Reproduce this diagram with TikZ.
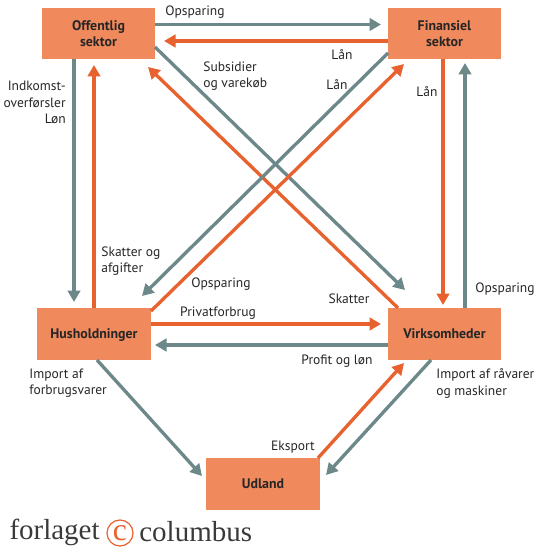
\documentclass[tikz,border=0pt]{standalone}
\usepackage{fontspec}
\setmainfont{PT Sans}
\newfontfamily\logofont{Liberation Serif}
\usetikzlibrary{arrows.meta,calc}
\definecolor{boxfill}{HTML}{F0895C}
\definecolor{flowred}{HTML}{E8622F}
\definecolor{flowgrey}{HTML}{6C8889}
\definecolor{logotext}{HTML}{3A3A3A}
\tikzset{
  sector/.style={fill=boxfill, minimum width=2.28cm, minimum height=1.04cm, inner sep=0pt,
    align=center, text=black!85, font=\fontsize{7.9}{9.4}\selectfont\bfseries},
  lbl/.style={inner sep=0pt, yshift=-0.03cm, text=black!85, font=\fontsize{7.7}{9.2}\selectfont},
  redflow/.style={->, flowred, line width=1.9pt},
  greyflow/.style={->, flowgrey, line width=1.9pt},
}
\begin{document}
\begin{tikzpicture}[x=0.02cm, y=-0.02cm, >={Triangle[length=0.23cm, width=0.25cm]}]
  \useasboundingbox (0,0) rectangle (550,550);

  % --- Sectors ---
  \node[sector] (off) at (98.5,33.5) {Offentlig\\sektor};
  \node[sector] (fin) at (444.5,33.5) {Finansiel\\sektor};
  \node[sector, text depth=0pt] (hus) at (94,334) {Husholdninger};
  \node[sector] (virk) at (444.5,334) {Virksomheder};
  \node[sector] (udl) at (263,484) {Udland};

  % --- Top pair ---
  \draw[greyflow] ($(off)+(56.5,-9)$) -- ($(fin)+(-63.5,-9)$);
  \draw[redflow] ($(fin)+(-56.5,7.5)$) -- ($(off)+(65.5,7.5)$);

  % --- Left pair ---
  \draw[greyflow] ($(off)+(-24.5,25.5)$) -- ($(hus)+(-20,-32)$);
  \draw[redflow] ($(hus)+(0,-26)$) -- ($(off)+(-4.5,31.5)$);

  % --- Right pair ---
  \draw[redflow] ($(fin)+(-1.5,25.5)$) -- ($(virk)+(-1.5,-29)$);
  \draw[greyflow] ($(virk)+(20.5,-26)$) -- ($(fin)+(20.5,29.5)$);

  % --- Diagonals ---
  \draw[greyflow] ($(off)+(56.5,13.5)$) -- ($(virk)+(-39.5,-44)$);
  \draw[redflow] ($(virk)+(-46.5,-26)$) -- ($(off)+(49.5,33.5)$);
  \draw[greyflow] ($(fin)+(-56.5,19.5)$) -- ($(hus)+(48,-38)$);
  \draw[redflow] ($(hus)+(57,-23)$) -- ($(fin)+(-40.5,30.5)$);

  % --- Middle pair ---
  \draw[redflow] ($(hus)+(57,-10)$) -- ($(virk)+(-63.5,-10)$);
  \draw[greyflow] ($(virk)+(-56.5,11)$) -- ($(hus)+(61,11)$);

  % --- Foreign trade ---
  \draw[greyflow] ($(hus)+(3,26)$) -- ($(udl)+(-61,-8)$);
  \draw[greyflow] ($(virk)+(-13.5,26)$) -- ($(udl)+(63,-9)$);
  \draw[redflow] ($(udl)+(55,-26)$) -- ($(virk)+(-40.5,29)$);

  % --- Labels ---
  \node[lbl] (opsTop) at (195,11) {Opsparing};
  \node[lbl] (laanTop) at (342,53) {Lån};
  \node[lbl] (laanDiag) at (337,83) {Lån};
  \node[lbl] (laanRight) at (427,90) {Lån};
  \node[lbl, anchor=west, align=left] (subsidier) at (203,75) {Subsidier\\og varekøb};
  \node[lbl, anchor=east, align=right] (indkomst) at (66,101) {Indkomst-\\overførsler\\Løn};
  \node[lbl, anchor=west, align=left] (skatterAf) at (101,259.5) {Skatter og\\afgifter};
  \node[lbl] (opsDiag) at (221,283) {Opsparing};
  \node[lbl] (privat) at (218,312) {Privatforbrug};
  \node[lbl] (skatter) at (349,297) {Skatter};
  \node[lbl] (opsRight) at (505,288) {Opsparing};
  \node[lbl] (profit) at (337,360) {Profit og løn};
  \node[lbl, anchor=west, align=left] (importHus) at (29,382) {Import af\\forbrugsvarer};
  \node[lbl, anchor=west, align=left] (importVirk) at (436,382) {Import af råvarer\\og maskiner};
  \node[lbl] (eksport) at (293,446) {Eksport};

  % --- Logo ---
  \node[inner sep=0pt, text=logotext, font=\logofont\fontsize{16.5}{18}\selectfont, anchor=east] (forlaget) at (100,532) {forlaget};
  \node[circle, draw=flowred, line width=0.7pt, minimum size=0.52cm, inner sep=0pt,
    text=flowred, font=\logofont\fontsize{18}{18}\selectfont] (copy) at (120,533) {c};
  \node[inner sep=0pt, text=logotext, font=\logofont\fontsize{16.5}{18}\selectfont, anchor=west] (columbus) at (139,532) {columbus};
\end{tikzpicture}
\end{document}
